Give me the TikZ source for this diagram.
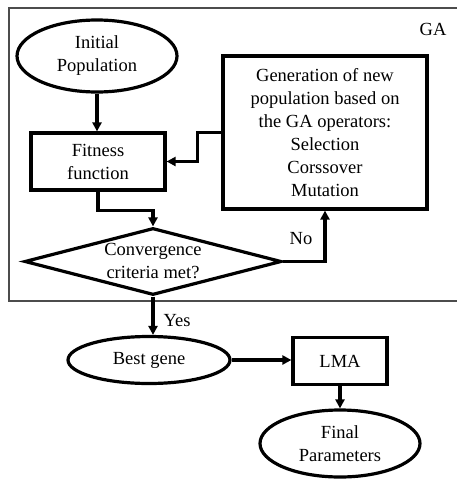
\documentclass[tikz,border=0pt]{standalone}
\usepackage{fontspec}
\setmainfont{Liberation Serif}
\newfontfamily\timesfont{Liberation Serif}
\usetikzlibrary{shapes.geometric,arrows.meta,calc}
\begin{document}
\begin{tikzpicture}[x=1pt,y=1pt,
  every node/.style={font=\timesfont\fontsize{18.5}{23}\selectfont, align=center, inner sep=0pt},
  shapeline/.style={draw=black, line width=3.2pt},
  ellbox/.style={shapeline, ellipse},
  recbox/.style={shapeline, rectangle},
  arr/.style={line width=3.2pt, -{Triangle[length=9pt,width=9pt]}},
  lbl/.style={font=\timesfont\fontsize{18.5}{23}\selectfont}
]
\useasboundingbox (0,0) rectangle (457,-482);
\fill[white] (0,0) rectangle (457,-482);
% GA frame
\draw[draw=black!70, line width=1.5pt] (9,-8) rectangle (460,-301);
\node[lbl] (ga) at (433,-29) {GA};

\node[ellbox, minimum width=160, minimum height=72] (init) at (97,-56) {Initial\\Population};
\node[recbox, minimum width=134, minimum height=57] (fit) at (98,-161.5) {Fitness\\function};
\node[recbox, minimum width=204, minimum height=153] (gen) at (325,-132.5)
  {Generation of new\\population based on\\the GA operators:\\Selection\\Corssover\\Mutation};
\node[shapeline, diamond, minimum width=257, minimum height=67, shape aspect=3.84] (conv) at (153,-261.5) {};
\node (convtext) at (conv.center) {Convergence\\criteria met?};
\node[ellbox, minimum width=162, minimum height=47] (best) at (149,-360) {Best gene};
\node[recbox, minimum width=94, minimum height=47] (lma) at (340,-361) {LMA};
\node[ellbox, minimum width=160, minimum height=67] (final) at (340,-443.5) {Final\\Parameters};

\draw[arr] (init.south) -- (init.south |- fit.north);
\draw[arr] (gen.west) -- ++(-24,0) |- (fit.east);
\draw[arr] (fit.south) -- ++(0,-19) -| (conv.north);
\draw[arr] (conv.east) -| (gen.south);
\node[lbl] (no) at (301,-239) {No};
\draw[arr] (conv.south) -- (conv.south |- best.north);
\node[lbl] (yes) at (177,-321) {Yes};
\draw[arr] (best.east) -- (best.east -| lma.west);
\draw[arr] (lma.south) -- (final.north);
\end{tikzpicture}
\end{document}
